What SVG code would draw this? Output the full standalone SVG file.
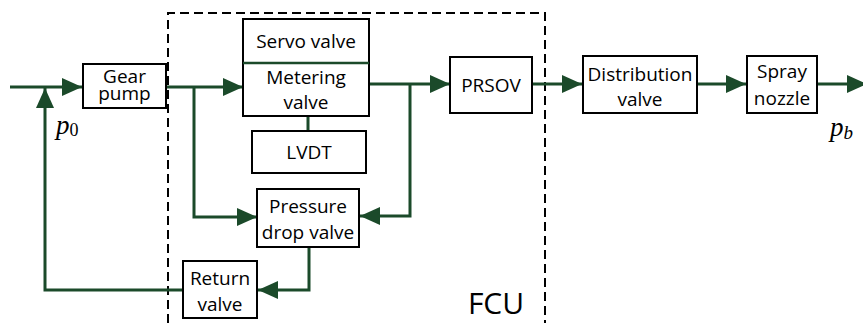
<svg xmlns="http://www.w3.org/2000/svg" width="863" height="323" viewBox="0 0 863 323">
<style>
.box{fill:#fff;stroke:#000;stroke-width:2}
.lbl{font-family:"Open Sans","Liberation Sans",sans-serif;font-size:19px;fill:#000;text-anchor:middle}
.flow{fill:none;stroke:#1b4a2a;stroke-width:3}
.math{font-family:"Liberation Serif",serif;font-style:italic;font-size:27px;fill:#000}
</style>
<defs>
<marker id="arr" viewBox="0 0 20 18" refX="20" refY="9" markerWidth="20" markerHeight="18" markerUnits="userSpaceOnUse" orient="auto">
<path d="M0,0 L20,9 L0,18 z" fill="#1b4a2a"/>
</marker>
</defs>
<rect width="863" height="323" fill="#fff"/>
<g id="fcu">
<path d="M168,323 V13 H545 V323" fill="none" stroke="#000" stroke-width="2" stroke-dasharray="9,5"/>
<text x="496" y="314" font-family="'Open Sans','Liberation Sans',sans-serif" font-size="30" text-anchor="middle">FCU</text>
</g>
<g id="connectors">
<path class="flow" d="M10,87 H82" marker-end="url(#arr)"/>
<path class="flow" d="M183,290 H45 V88" marker-end="url(#arr)"/>
<path class="flow" d="M166,87 H243" marker-end="url(#arr)"/>
<path class="flow" d="M194,87 V217 H257" marker-end="url(#arr)"/>
<path class="flow" d="M369,84 H450" marker-end="url(#arr)"/>
<path class="flow" d="M410,84 V216 H360" marker-end="url(#arr)"/>
<path class="flow" d="M308,116 V131"/>
<path class="flow" d="M309,247 V290 H258" marker-end="url(#arr)"/>
<path class="flow" d="M532,84 H582" marker-end="url(#arr)"/>
<path class="flow" d="M697,84 H746" marker-end="url(#arr)"/>
<path class="flow" d="M817,84 H867" marker-end="url(#arr)"/>
</g>
<g id="gear-pump">
<rect class="box" x="83" y="64" width="83" height="44"/>
<text class="lbl" x="124.5" y="83" font-size="18">Gear</text>
<text class="lbl" x="124.5" y="100" font-size="18">pump</text>
</g>
<g id="servo-metering">
<rect class="box" x="243" y="19" width="126" height="97"/>
<line x1="243" y1="63" x2="369" y2="63" stroke="#1b4a2a" stroke-width="2.5"/>
<text class="lbl" x="306" y="48">Servo valve</text>
<text class="lbl" x="306" y="84">Metering</text>
<text class="lbl" x="306" y="109">valve</text>
</g>
<g id="lvdt">
<rect class="box" x="252" y="131" width="114" height="42"/>
<text class="lbl" x="309" y="159">LVDT</text>
</g>
<g id="prsov">
<rect class="box" x="450" y="57" width="82" height="56"/>
<text class="lbl" x="491" y="92">PRSOV</text>
</g>
<g id="pressure-drop">
<rect class="box" x="257" y="189" width="102" height="58"/>
<text class="lbl" x="308" y="213">Pressure</text>
<text class="lbl" x="308" y="239">drop valve</text>
</g>
<g id="return-valve">
<rect class="box" x="183" y="261" width="74" height="57"/>
<text class="lbl" x="220" y="285">Return</text>
<text class="lbl" x="220" y="311">valve</text>
</g>
<g id="distribution">
<rect class="box" x="583" y="56" width="114" height="57"/>
<text class="lbl" x="640" y="81">Distribution</text>
<text class="lbl" x="640" y="106">valve</text>
</g>
<g id="spray">
<rect class="box" x="747" y="56" width="70" height="57"/>
<text class="lbl" x="782" y="78">Spray</text>
<text class="lbl" x="782" y="105">nozzle</text>
</g>
<g id="labels">
<text class="math" x="56" y="134">p<tspan font-style="normal" font-size="18" dy="2">0</tspan></text>
<text class="math" x="830" y="136">p<tspan font-size="19" dy="3">b</tspan></text>
</g>
</svg>
